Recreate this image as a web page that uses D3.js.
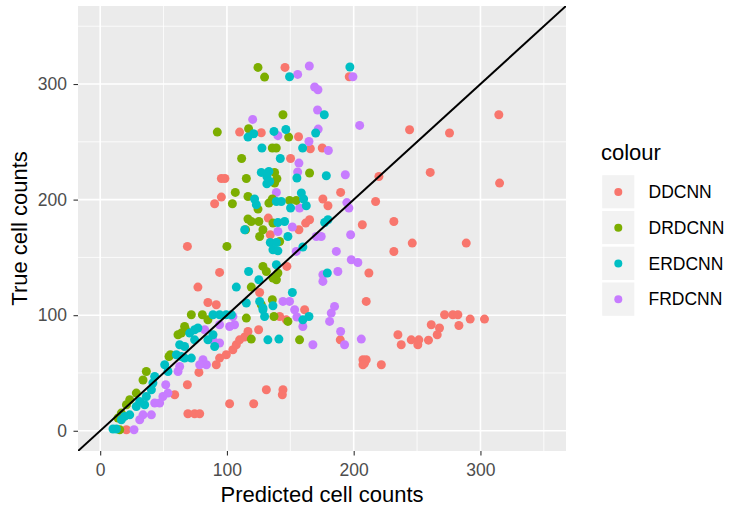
<!DOCTYPE html>
<html>
<head>
<meta charset="utf-8">
<script src="https://cdn.jsdelivr.net/npm/d3@7"></script>
<style>
  body { margin: 0; background: #ffffff; }
  svg { display: block; font-family: "Liberation Sans", Arial, Helvetica, sans-serif; }
</style>
</head>
<body>
<svg id="chart" width="736" height="516"></svg>
<script>
// ---------------- data ----------------
const seriesNames = ["DDCNN", "DRDCNN", "ERDCNN", "FRDCNN"];
const seriesColors = ["#F8766D", "#7CAE00", "#00BFC4", "#C77CFF"];
const majorTicks = [0, 100, 200, 300];
const minorTicks = [50, 150, 250, 350];
const axisLimits = [0, 350];
const xTitle = "Predicted cell counts";
const yTitle = "True cell counts";
const legendTitle = "colour";

// [predicted, true]
const ddcnn = [
  [145.8,314.4],[196.5,306.3],[110,258.4],[127.1,257.8],[156.5,254.4],[165.8,244],[175.2,244.6],
  [150.2,235.6],[95.6,218.3],[98.4,218.3],[189.7,206.2],[90.3,196.4],[95.6,202.2],[175.7,200.5],
  [179.7,194.7],[132.6,184],[134.2,169.6],[156.8,173.9],[162.1,179.7],[165.2,182.6],[68.8,159.5],
  [147.3,142.2],[94.2,137],[77.1,124.3],[125.8,119.6],[85,111],[91.6,109],[141.6,98.9],[146.8,96],
  [161.3,104.7],[125,87.4],[209.9,111.9],[189.4,78.7],[207.3,61.4],[208.6,58.6],[209.9,61.4],
  [207.3,57.1],[221.8,57.1],[234.9,83.1],[237.5,74.4],[245.4,78.7],[251.4,78.7],[250.6,74.4],
  [259,78.4],[261.2,91.7],[131.1,35.5],[144.2,35.5],[143.7,31.2],[121.1,23.4],[102.1,23.4],
  [69.2,14.7],[74.5,14.7],[78.5,14.7],[68.8,39.8],[58.8,31.2],[20.7,0.9],[91.6,57.1],[94.2,62.9],
  [99.5,65.8],[104.7,70.1],[107.4,74.4],[110,78.7],[114,81.1],[116.6,85.9],[77.9,50.5],
  [244.1,260.4],[275.6,257.6],[314.5,273.4],[219.9,220],[260.4,223.5],[315.1,214.3],[217.3,198.4],
  [206.8,178.2],[231.7,181.1],[246.2,162.4],[288.8,162.4],[231.7,155.1],[212,136.5],[271.7,100.4],
  [278.2,100.4],[282.2,100.4],[291.9,96.6],[303.2,96.6],[267.7,88.9],[283,91.1],[265.9,83.1]
];
const drdcnn = [
  [124.5,314.4],[129.7,306],[144.2,273.4],[92.4,258.4],[117.1,261.3],[148.7,254.1],[135.8,244.6],
  [138.9,244.6],[111.6,235.6],[165.2,223],[115.3,218.3],[137.6,223.5],[139.4,218],[137.6,214.3],
  [106.6,206.2],[116.6,202.7],[104.3,196.4],[124.5,191.8],[133.1,197],[135.8,200.5],[149.4,199.3],
  [154.7,199.3],[116.6,183.2],[119.2,181.1],[125.2,181.1],[114.7,173.9],[128.4,173.9],[125.8,168.1],
  [136.3,179.7],[141.6,163.8],[100,159.5],[128.4,142.2],[131.1,137.8],[136.3,132.1],[140.2,136.5],
  [139,130.7],[119.2,124.3],[135.8,113.4],[127.1,109],[71.9,100.4],[80.6,100.4],[115.3,97.5],
  [137.1,98.9],[148.1,94.6],[66.6,90.2],[157.3,78.7],[119.2,79.3],[85,96],[67.4,87.4],[64,84.5],
  [61.4,83.1],[55.4,65.8],[54.3,64.3],[36.4,51.3],[33.8,43.9],[28.5,32.6],[23.3,26.8],[20.7,22.5],
  [16.7,15.3],[14,11],[15.4,0.9]
];
const erdcnn = [
  [149.4,306.3],[197,314.7],[176.8,273.4],[116.6,254.1],[121.1,257],[137.1,259],[146.5,260.7],
  [170,257.6],[127.6,244.6],[159.7,244.6],[142.1,235.6],[155.2,218.7],[178.4,220.6],[127.1,223.5],
  [133.1,224.4],[131.5,220],[133.7,215.7],[131.5,213.7],[121.8,200.5],[123.2,195.6],[139,198.4],
  [142.9,198.4],[158.7,205.7],[160.5,200.5],[162.6,194.7],[150.2,192.7],[114,173.9],[140.2,180.2],
  [145.5,181.1],[148.1,168.1],[177.1,180.2],[179.7,182.6],[134.2,162.9],[139,162.9],[136.3,156.6],
  [140.2,155.7],[159.9,159],[117.1,137.8],[125.2,130.7],[139,143.6],[107.4,124.3],[179.2,136.5],
  [151.6,119.6],[125.8,111.9],[128.4,106.2],[136.3,108.2],[115.3,110.5],[89,100.4],[94.2,100.4],
  [99.5,100.4],[103.5,100.4],[128.4,104.7],[129.7,98.9],[159.9,96],[164.7,98.9],[70.6,84.5],
  [74.5,87.4],[132.3,78.7],[141,79.3],[77.1,88.9],[74.5,78.7],[89,83.1],[85,78.7],[90.3,72.9],
  [66.6,72.9],[62.7,74.4],[60.1,65.8],[64,64.3],[66.6,62.9],[71.9,62.9],[50.9,57.1],[53.5,51.3],
  [43,47],[41.6,41.3],[40.4,35.5],[36.4,29.7],[31.2,25.4],[35.1,22.5],[28.5,21],[23.3,13.8],
  [19.3,12.4],[16.7,9.5],[10.1,1.5],[12.8,1.5]
];
const frdcnn = [
  [155.8,308.3],[165,315.6],[199.4,306.3],[169.2,297.4],[171.8,295],[171.5,277.5],[120.3,269.4],
  [140.2,255.3],[172,261],[204.7,264.2],[164.7,250.3],[180,242.5],[156.8,231.6],[155.8,223.9],
  [193.4,221.5],[139,206.2],[157.3,192.7],[194.6,197.4],[196.2,192.7],[140.2,172.4],[151.6,176.3],
  [170.5,168.1],[174.4,168.1],[197.6,169.6],[154.7,155.2],[186.3,155.2],[198.1,148],[203.3,145.6],
  [175.7,135],[175.7,129.2],[187.5,137.8],[144.2,111.9],[149.4,111.9],[104.7,98.9],[106,91.7],
  [153.4,104.7],[155.2,98.4],[182.3,101.8],[184.9,107.6],[181,94.6],[189.7,85.9],[159.9,90.2],
  [94.2,91.7],[192.8,74.4],[206,79.3],[167.8,74.4],[89,78.7],[94.2,75.9],[81.1,61.4],[83.8,57.1],
  [78.5,57.1],[61.4,51.3],[62.7,55.6],[51.7,39.8],[53.5,32.6],[49.5,29.7],[46.9,24],[43,24],
  [33.8,13.8],[40.4,13.8],[31.2,9.5],[26.7,0.9],[102.1,90.2],[82.4,87.4]
];
const seriesData = [ddcnn, drdcnn, erdcnn, frdcnn];
const drawOrder = [0, 3, 1, 2];

// ---------------- layout ----------------
const svg = d3.select("#chart");
const panel = { left: 78, right: 566, top: 6, bottom: 451 };
const span = axisLimits[1] - axisLimits[0];
const pad = span * 0.05;
const x = d3.scaleLinear().domain([axisLimits[0] - pad, axisLimits[1] + pad]).range([panel.left, panel.right]);
const y = d3.scaleLinear().domain([axisLimits[0] - pad, axisLimits[1] + pad]).range([panel.bottom, panel.top]);

svg.append("rect").attr("x", panel.left).attr("y", panel.top)
  .attr("width", panel.right - panel.left).attr("height", panel.bottom - panel.top)
  .attr("fill", "#EBEBEB");

const grid = svg.append("g");
grid.selectAll(".vmin").data(minorTicks).join("line")
  .attr("x1", d => x(d)).attr("x2", d => x(d)).attr("y1", panel.top).attr("y2", panel.bottom)
  .attr("stroke", "#ffffff").attr("stroke-width", 0.8);
grid.selectAll(".hmin").data(minorTicks).join("line")
  .attr("y1", d => y(d)).attr("y2", d => y(d)).attr("x1", panel.left).attr("x2", panel.right)
  .attr("stroke", "#ffffff").attr("stroke-width", 0.8);
grid.selectAll(".vmaj").data(majorTicks).join("line")
  .attr("x1", d => x(d)).attr("x2", d => x(d)).attr("y1", panel.top).attr("y2", panel.bottom)
  .attr("stroke", "#ffffff").attr("stroke-width", 1.6);
grid.selectAll(".hmaj").data(majorTicks).join("line")
  .attr("y1", d => y(d)).attr("y2", d => y(d)).attr("x1", panel.left).attr("x2", panel.right)
  .attr("stroke", "#ffffff").attr("stroke-width", 1.6);

svg.append("clipPath").attr("id", "clip").append("rect")
  .attr("x", panel.left).attr("y", panel.top)
  .attr("width", panel.right - panel.left).attr("height", panel.bottom - panel.top);

const pts = svg.append("g").attr("clip-path", "url(#clip)");
drawOrder.forEach(i => {
  pts.append("g").selectAll("circle").data(seriesData[i]).join("circle")
    .attr("cx", d => x(d[0])).attr("cy", d => y(d[1])).attr("r", 4.5)
    .attr("fill", seriesColors[i]);
});

// y = x reference line
const lineDom = x.domain();
svg.append("g").attr("clip-path", "url(#clip)").append("line")
  .attr("x1", x(lineDom[0])).attr("y1", y(lineDom[0]))
  .attr("x2", x(lineDom[1])).attr("y2", y(lineDom[1]))
  .attr("stroke", "#000000").attr("stroke-width", 2);

// axes
const xAxis = svg.append("g").attr("transform", `translate(0,${panel.bottom})`)
  .call(d3.axisBottom(x).tickValues(majorTicks).tickSize(4.5).tickPadding(7.6).tickSizeOuter(0));
const yAxis = svg.append("g").attr("transform", `translate(${panel.left},0)`)
  .call(d3.axisLeft(y).tickValues(majorTicks).tickSize(4.5).tickPadding(6.5).tickSizeOuter(0));
[xAxis, yAxis].forEach(a => {
  a.select(".domain").remove();
  a.selectAll(".tick line").attr("stroke", "#333333").attr("stroke-width", 1.1);
  a.selectAll(".tick text").attr("fill", "#4D4D4D").style("font-size", "17.5px")
    .style("font-family", '"Liberation Sans", Arial, sans-serif');
});

svg.append("text").attr("x", (panel.left + panel.right) / 2).attr("y", 502)
  .attr("text-anchor", "middle").attr("fill", "#000").style("font-size", "22px").text(xTitle);
svg.append("text").attr("transform", `translate(27,${(panel.top + panel.bottom) / 2}) rotate(-90)`)
  .attr("text-anchor", "middle").attr("fill", "#000").style("font-size", "22px").text(yTitle);

// legend
const leg = svg.append("g");
leg.append("text").attr("x", 601).attr("y", 160).attr("fill", "#000").style("font-size", "22px").text(legendTitle);
const keyY = d3.scaleBand().domain(seriesNames).range([174, 317]).padding(0);
seriesNames.forEach((name, i) => {
  const cy = keyY(name) + keyY.bandwidth() / 2;
  leg.append("rect").attr("x", 601).attr("y", keyY(name)).attr("width", 34.5).attr("height", keyY.bandwidth())
    .attr("fill", "#F2F2F2").attr("stroke", "#ffffff").attr("stroke-width", 2.4);
  leg.append("circle").attr("cx", 618.3).attr("cy", cy).attr("r", 4).attr("fill", seriesColors[i]);
  leg.append("text").attr("x", 648.5).attr("y", cy).attr("dy", "0.35em").attr("fill", "#000")
    .style("font-size", "17.5px").text(name);
});
</script>
</body>
</html>
